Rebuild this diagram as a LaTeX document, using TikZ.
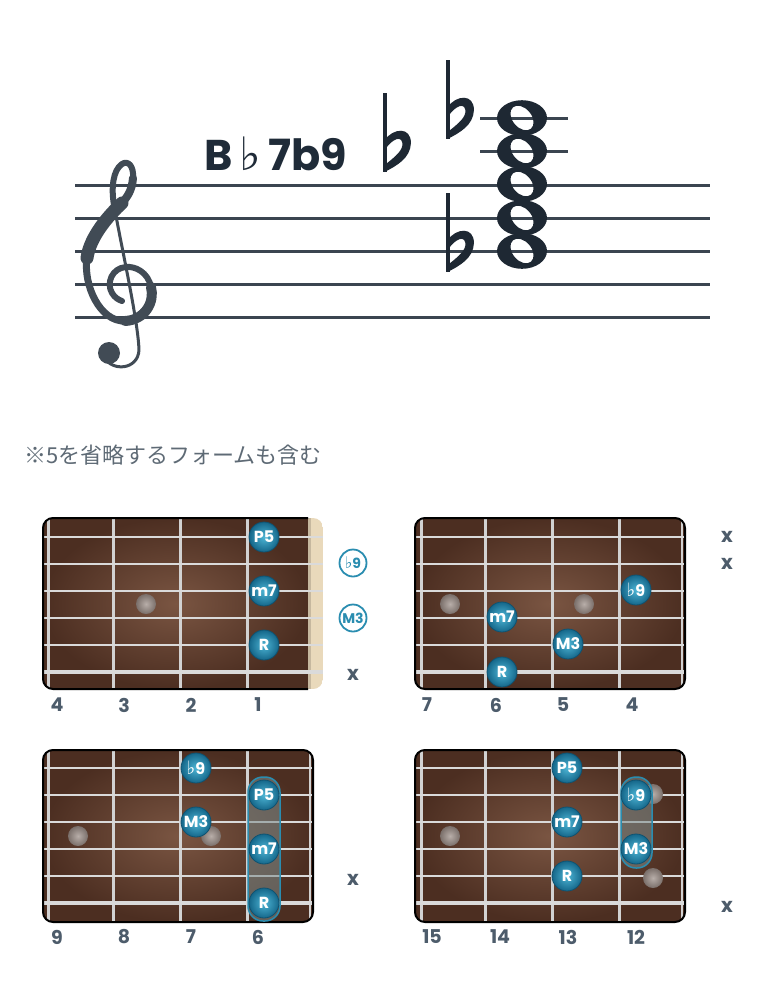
\documentclass[tikz,border=0pt]{standalone}
\usepackage{fontspec}
\setmainfont{Poppins}
\newfontfamily\pop{Poppins}
\newfontfamily\djv{DejaVu Sans}
\newfontfamily\jpf{Noto Sans CJK JP}
\usetikzlibrary{calc}
\definecolor{staffcol}{HTML}{3B4550}
\definecolor{clefcol}{HTML}{414B55}
\definecolor{notecol}{HTML}{1E2833}
\definecolor{titlecol}{HTML}{1F2B38}
\definecolor{jpcol}{HTML}{5E6A75}
\definecolor{numcol}{HTML}{4D5C6B}
\definecolor{notein}{HTML}{4DB5D5}
\definecolor{noteout}{HTML}{15678A}
\definecolor{noteedge}{HTML}{0F5270}
\definecolor{markcol}{HTML}{2A8DB0}
\definecolor{dotin}{HTML}{B8AEA9}
\definecolor{dotout}{HTML}{7A6F6A}
\definecolor{stringcol}{HTML}{DADADA}
\definecolor{fretcol}{HTML}{D2D2D2}
\definecolor{nutcol}{HTML}{E9D9BB}
\definecolor{boardin}{HTML}{7A5542}
\definecolor{boardout}{HTML}{4C2E21}
\definecolor{barrecol}{HTML}{7A8A8A}
\newcommand\fl{{\djv\mdseries\scalebox{1.15}{♭}}}
\newcommand\flatsym[3]{%
  \begin{scope}[shift={(#1,#2)}, x=#3*0.36pt, y=-#3pt]
    \fill[notecol] (0,0) rectangle (0.13,1);
    \fill[notecol] (0.05,0.6) .. controls (0.35,0.44) and (1.0,0.42) .. (0.98,0.64)
      .. controls (0.96,0.82) and (0.5,0.92) .. (0.05,1.0) -- (0.1,0.9)
      .. controls (0.45,0.8) and (0.72,0.72) .. (0.68,0.63)
      .. controls (0.62,0.54) and (0.35,0.58) .. (0.1,0.7) -- cycle;
  \end{scope}}
\newcommand\boardstrings[3]{% x1, x2, ytop-string
  \foreach \k/\w in {0/1.2,1/1.5,2/1.8,3/2.2,4/2.7,5/3.2}
    \draw[stringcol, line width=\w pt] (#1,{#3+27*\k}) -- (#2,{#3+27*\k});}
\begin{document}
\begin{tikzpicture}[x=1pt,y=-1pt,
  staffline/.style={line width=3pt, staffcol},
  clefstroke/.style={clefcol, line cap=round, line join=round},
  fretw/.style={line width=3pt, fretcol},
  bborder/.style={line width=2pt, black, rounded corners=10pt},
  tone/.style={circle, minimum size=30pt, inner sep=0pt, shade, inner color=notein,
    outer color=noteout, draw=noteedge, line width=0.8pt, text=white,
    font=\pop\bfseries\fontsize{16}{16}\selectfont},
  openm/.style={circle, minimum size=27pt, inner sep=0pt, draw=markcol, line width=1.8pt,
    fill=white, text=markcol, font=\pop\bfseries\fontsize{14}{14}\selectfont},
  mute/.style={text=numcol, font=\pop\bfseries\fontsize{20}{20}\selectfont, inner sep=0pt},
  fretnum/.style={text=numcol, font=\pop\bfseries\fontsize{19}{19}\selectfont, inner sep=0pt},
  inlay/.style={circle, minimum size=20pt, inner sep=0pt, shade, inner color=dotin, outer color=dotout},
  barre/.style={rounded corners=15pt, fill=barrecol, fill opacity=0.55, draw=markcol, line width=1.5pt}]
\useasboundingbox (0,0) rectangle (780,986);
\fill[white] (0,0) rectangle (780,986);
% ---------- staff ----------
\foreach \y in {185,218,251,284,317} \draw[staffline] (75,\y) -- (710,\y);
\foreach \y in {118,151} \draw[staffline] (480,\y) -- (568,\y);
% treble clef (drawn as a shape)
\fill[clefcol] (109,353) circle (11);
\draw[clefstroke, line width=3pt] (104,357) .. controls (112,372) and (138,370) .. (139,350)
  .. controls (138,320) and (121,245) .. (114,205);
\draw[clefstroke, line width=6pt] (114,205) .. controls (111,188) and (113,170) .. (122,164)
  .. controls (128,160) and (134,166) .. (133,178);
\draw[clefstroke, line width=8pt] (133,178) .. controls (132,190) and (128,196) .. (122,203);
\draw[clefstroke, line width=13pt] (122,203) .. controls (110,214) and (90,236) .. (87,258);
\draw[clefstroke, line width=7pt] (87,258) .. controls (83,285) and (100,322) .. (125,321);
\draw[clefstroke, line width=10pt] (125,321) .. controls (145,320) and (155,302) .. (151,287);
\draw[clefstroke, line width=6pt] (151,287) .. controls (148,272) and (135,266) .. (126,267)
  .. controls (112,268) and (106,283) .. (112,293) .. controls (115,298) and (119,300) .. (122,301);
\flatsym{383}{93}{79}
\flatsym{446}{60}{79}
\flatsym{446}{193}{79}
\foreach \y in {118,151,184,218,251}
  \fill[notecol, even odd rule] (522,\y) ellipse [x radius=25, y radius=17.8]
    {[rotate around={40:(522,\y)}] (522,\y) ellipse [x radius=9.5, y radius=14]};
\node[anchor=base west, inner sep=0pt, text=titlecol, font=\pop\bfseries\fontsize{43}{43}\selectfont] (title) at (204,170)
  {B\hspace{7pt}{\djv\mdseries\fontsize{46}{46}\selectfont ♭}\hspace{7pt}7b9};
\node[anchor=west, inner sep=0pt, text=jpcol, font=\jpf\fontsize{22}{22}\selectfont] (remark) at (24,455) {※5を省略するフォームも含む};
% ---------- board 1 ----------
\begin{scope}
  \clip[rounded corners=10pt] (43,518) rectangle (323,689);
  \shade[inner color=boardin, outer color=boardout] (43,518) rectangle (308,689);
  \fill[nutcol] (308,518) rectangle (323,689);
  \fill[black, opacity=0.15] (308,518) rectangle (311,689);
  \foreach \x in {48,113,180,247} \draw[fretw] (\x,518) -- (\x,689);
  \boardstrings{43}{323}{537}
\end{scope}
\draw[bborder] (308,518) -- (43,518) -- (43,689) -- (308,689);
\node[inlay] (b1d1) at (146,604) {};
\node[tone] (b1p5) at (264,537) {P5};
\node[tone] (b1m7) at (264,591) {m7};
\node[tone] (b1r) at (264,645) {R};
\node[openm] (b1o9) at (353,563) {\fl 9};
\node[openm] (b1o3) at (353,618) {M3};
\node[mute] (b1x) at (353,675) {x};
\foreach \n/\x in {4/57,3/124,2/191,1/258} \node[fretnum] (b1n\n) at (\x,705) {\n};
% ---------- board 2 ----------
\begin{scope}
  \clip[rounded corners=10pt] (415,518) rectangle (685,689);
  \shade[inner color=boardin, outer color=boardout] (415,518) rectangle (685,689);
  \foreach \x in {421,485,552,619} \draw[fretw] (\x,518) -- (\x,689);
  \draw[fretcol, line width=1.5pt] (682,518) -- (682,689);
  \boardstrings{415}{685}{537}
\end{scope}
\draw[bborder] (415,518) rectangle (685,689);
\node[inlay] (b2d1) at (450,604) {};
\node[inlay] (b2d2) at (584,604) {};
\node[tone] (b2b9) at (636,590) {\fl 9};
\node[tone] (b2m7) at (502,617) {m7};
\node[tone] (b2m3) at (568,644) {M3};
\node[tone] (b2r) at (502,672) {R};
\node[mute] (b2x1) at (727,537) {x};
\node[mute] (b2x2) at (727,564) {x};
\foreach \n/\x in {7/427,6/496,5/563,4/632} \node[fretnum] (b2n\n) at (\x,705) {\n};
% ---------- board 3 ----------
\begin{scope}
  \clip[rounded corners=10pt] (43,750) rectangle (313,922);
  \shade[inner color=boardin, outer color=boardout] (43,750) rectangle (313,922);
  \foreach \x in {48,113,180,247} \draw[fretw] (\x,750) -- (\x,922);
  \draw[fretcol, line width=1.5pt] (310,750) -- (310,922);
  \boardstrings{43}{313}{768}
\end{scope}
\draw[bborder] (43,750) rectangle (313,922);
\node[inlay] (b3d1) at (78,836) {};
\node[inlay] (b3d2) at (211,836) {};
\draw[barre] (248,777) rectangle (280,921);
\node[tone] (b3b9) at (196,768) {\fl 9};
\node[tone] (b3m3) at (196,822) {M3};
\node[tone] (b3p5) at (264,795) {P5};
\node[tone] (b3m7) at (264,849) {m7};
\node[tone] (b3r) at (264,903) {R};
\node[mute] (b3x) at (353,880) {x};
\foreach \n/\x in {9/57,8/124,7/191,6/258} \node[fretnum] (b3n\n) at (\x,937) {\n};
% ---------- board 4 ----------
\begin{scope}
  \clip[rounded corners=10pt] (415,750) rectangle (685,922);
  \shade[inner color=boardin, outer color=boardout] (415,750) rectangle (685,922);
  \foreach \x in {421,485,552,619} \draw[fretw] (\x,750) -- (\x,922);
  \draw[fretcol, line width=1.5pt] (682,750) -- (682,922);
  \boardstrings{415}{685}{768}
\end{scope}
\draw[bborder] (415,750) rectangle (685,922);
\node[inlay] (b4d1) at (450,836) {};
\node[inlay] (b4d2) at (653,794) {};
\node[inlay] (b4d3) at (653,878) {};
\draw[barre] (621,777) rectangle (652,868);
\node[tone] (b4p5) at (567,768) {P5};
\node[tone] (b4m7) at (567,822) {m7};
\node[tone] (b4r) at (567,876) {R};
\node[tone] (b4b9) at (636,795) {\fl 9};
\node[tone] (b4m3) at (636,849) {M3};
\node[mute] (b4x) at (727,907) {x};
\foreach \n/\x in {15/432,14/500,13/568,12/636} \node[fretnum] (b4n\n) at (\x,937) {\n};
\end{tikzpicture}
\end{document}
